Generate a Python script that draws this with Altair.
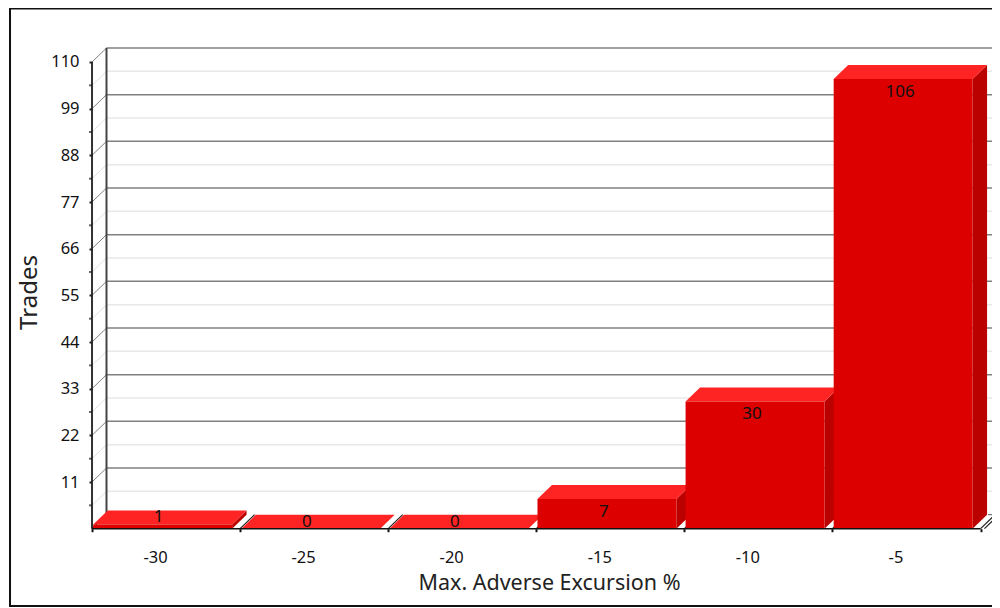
import altair as alt
import pandas as pd

FONT = "Noto Sans"
bins = [-30, -25, -20, -15, -10, -5]
trades = [1, 0, 0, 7, 30, 106]
y_major = [11, 22, 33, 44, 55, 66, 77, 88, 99, 110]
y_minor = [5.5, 16.5, 27.5, 38.5, 49.5, 60.5, 71.5, 82.5, 93.5, 104.5]
x_edges = [-32.5, -27.5, -22.5, -17.5, -12.5, -7.5, -2.5]

DX, DY = 0.489, 3.3        # 3-D depth in data units
GAP, BAR_W = 0.04, 4.69
X_MAX, Y_MAX = -2.115, 113.3

xs = alt.Scale(domain=[-32.5, X_MAX], nice=False, zero=False)
ys = alt.Scale(domain=[0, Y_MAX], nice=False, zero=False)


def X(name="x", axis=alt.Undefined):
    return alt.X(f"{name}:Q", scale=xs, axis=axis)


def Y(name="y", axis=alt.Undefined):
    return alt.Y(f"{name}:Q", scale=ys, axis=axis)


bars = pd.DataFrame({"bin": bins, "v": trades})
bars["lo"] = [e + GAP for e in x_edges[:-1]]
bars["hi"] = bars["lo"] + BAR_W

top_rows, side_rows = [], []
for _, r in bars.iterrows():
    top_rows += [
        dict(b=r.bin, y=r.v, x=r.lo, x2=r.hi),
        dict(b=r.bin, y=r.v + DY, x=r.lo + DX, x2=r.hi + DX),
    ]
    if r.v > 0:
        side_rows += [
            dict(b=r.bin, x=r.hi, y=r.v, y2=0),
            dict(b=r.bin, x=r.hi + DX, y=r.v + DY, y2=DY),
        ]
tops = pd.DataFrame(top_rows)
sides = pd.DataFrame(side_rows)

x_axis = alt.Axis(
    values=x_edges, domain=False, grid=False, tickSize=3, tickWidth=2, tickColor="#111",
    labelExpr="datum.value > -5 ? '' : toString(datum.value + 2.5)",
    labelOffset=63, labelPadding=18, labelFont=FONT, labelFontSize=16.5, labelColor="#111",
    labelOverlap=False, labelFlush=False,
    title="Max. Adverse Excursion %", titleFont=FONT, titleFontSize=21.5, titleFontWeight="normal",
    titleColor="#222", titleX=457, titleY=55, titleBaseline="middle", titleAnchor="middle", zindex=1,
)
y_axis = alt.Axis(
    values=y_major, domain=False, grid=False, tickSize=3, tickWidth=2, tickColor="#222",
    format="d",
    labelPadding=10, labelFont=FONT, labelFontSize=16.5, labelColor="#111", labelOverlap=False,
    labelFlush=False, labelOpacity=1,
    title="Trades", titleFont=FONT, titleFontSize=24, titleFontWeight="normal", titleColor="#222",
    titleX=-63, titleY=244, titleBaseline="middle", titleAnchor="middle", zindex=1,
)


def hlines(values, color, width):
    df = pd.DataFrame({"y": [v + DY for v in values], "x": -32.5 + DX, "x2": X_MAX})
    return alt.Chart(df).mark_rule(color=color, strokeWidth=width).encode(
        x=X(), x2="x2:Q", y=Y()
    )


def diagonals(values, color, width):
    rows = []
    for v in values:
        rows += [dict(k=v, x=-32.5, y=v), dict(k=v, x=-32.5 + DX, y=v + DY)]
    return alt.Chart(pd.DataFrame(rows)).mark_line(color=color, strokeWidth=width).encode(
        x=X(), y=Y(), detail="k:N"
    )


def vline(xv, lo, hi, color, width):
    return alt.Chart(pd.DataFrame({"x": [xv], "y": [lo], "y2": [hi]})).mark_rule(
        color=color, strokeWidth=width
    ).encode(x=X(), y=Y(), y2="y2:Q")


frame = alt.Chart(pd.DataFrame({"k": [0]})).mark_rect(
    fill="white", stroke="#111", strokeWidth=2
).encode(x=alt.value(-82), x2=alt.value(930), y=alt.value(-39.5), y2=alt.value(558))

# axes host: invisible layer that carries the real axes
axes = alt.Chart(pd.DataFrame({"x": [-32.5], "y": [0]})).mark_point(opacity=0).encode(
    x=X(axis=x_axis), y=Y(axis=y_axis)
)

minor_ticks = alt.Chart(pd.DataFrame({"x": -32.5, "y": y_minor})).mark_tick(
    orient="horizontal", size=3, thickness=2, color="#222", xOffset=-1.5
).encode(x=X(), y=Y())

floor_rows = []
for i, e in enumerate(x_edges + [-2.37]):
    floor_rows += [dict(k=i, x=e, y=0), dict(k=i, x=e + DX, y=DY)]
floor = alt.Chart(pd.DataFrame(floor_rows)).mark_line(color="#222", strokeWidth=1.2).encode(
    x=X(), y=Y(), detail="k:N"
)
floor_top = alt.Chart(pd.DataFrame({"x": [-2.25], "x2": [X_MAX], "y": [DY]})).mark_rule(
    color="#555", strokeWidth=1
).encode(x=X(), x2="x2:Q", y=Y())

top_faces = alt.Chart(tops).mark_area(orient="horizontal", color="#FF2424").encode(
    y=Y(), x=X(), x2="x2:Q", detail="b:N"
)
side_faces = alt.Chart(sides).mark_area(orient="vertical", color="#BB0000").encode(
    x=X(), y=Y(), y2="y2:Q", detail="b:N"
)
fronts = alt.Chart(bars[bars.v > 0]).mark_rect(color="#DD0000").encode(
    x=X("lo"), x2="hi:Q", y=Y("v"), y2=alt.datum(0)
)

baseline = alt.Chart(pd.DataFrame({"x": [-32.5], "x2": [-2.5], "y": [0]})).mark_rule(
    color="#111", strokeWidth=1.6
).encode(x=X(), x2="x2:Q", y=Y())

bars["mid"] = (bars["lo"] + bars["hi"]) / 2
label_big = alt.Chart(bars[bars.v >= 5]).mark_text(
    font=FONT, fontSize=17, color="#111", dy=13, dx=-3
).encode(x=X("mid"), y=Y("v"), text="v:Q")
label_small = alt.Chart(bars[bars.v < 5]).mark_text(
    font=FONT, fontSize=17, color="#111", dy=-7, dx=-4
).encode(x=X("mid"), y=Y("v"), text="v:Q")

chart = alt.layer(
    axes,
    frame,
    hlines(y_minor, "#E8E8E8", 1.5),
    hlines(y_major, "#808080", 1.5),
    diagonals(y_minor, "#E0E0E0", 1),
    diagonals(y_major, "#808080", 1),
    vline(-32.5, 0, 110, "#333333", 2),
    vline(-32.5 + DX, DY, 110 + DY, "#444444", 2),
    minor_ticks,
    floor,
    floor_top,
    side_faces,
    top_faces,
    fronts,
    baseline,
    label_big,
    label_small,
).properties(
    width=900,
    height=480.7,
    padding={"left": 84, "top": 40, "right": 0, "bottom": 79},
    autosize=alt.AutoSizeParams(type="none"),
    background="white",
).configure_view(stroke=None)

chart.save("out.html", embed_options={"renderer": "svg", "actions": False})
